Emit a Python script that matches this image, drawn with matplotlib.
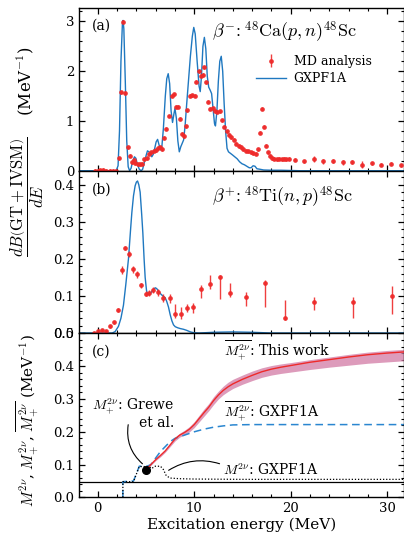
import matplotlib
matplotlib.use("Agg")
import matplotlib.pyplot as plt
from matplotlib.ticker import MultipleLocator, FormatStrFormatter

plt.rcParams['font.family'] = ['DejaVu Serif']
plt.rcParams['mathtext.fontset'] = 'cm'

# ---- panel (a): beta-  48Ca(p,n)48Sc ----
E_a = [-0.3, 0.0, 0.25, 0.55, 0.9, 1.25, 1.6, 1.9, 2.2, 2.42, 2.65, 2.87, 3.1, 3.3, 3.5,
       3.72, 3.9, 4.12, 4.37, 4.6, 4.84, 5.08, 5.32, 5.55, 5.78, 6.02, 6.27, 6.48, 6.65,
       6.85, 7.08, 7.38, 7.65, 7.9, 8.1, 8.3, 8.52, 8.72, 8.9, 9.1, 9.3, 9.55, 9.8, 10.03,
       10.2, 10.45, 10.68, 10.87, 11.04, 11.2, 11.42, 11.66, 11.9, 12.15, 12.4, 12.63,
       12.87, 13.13, 13.38, 13.62, 13.85, 14.08, 14.33, 14.6, 14.85, 15.1, 15.37, 15.62,
       15.88, 16.14, 16.38, 16.6, 16.8, 17.02, 17.22, 17.42, 17.62, 17.83, 18.05, 18.3,
       18.55, 18.8, 19.05, 19.3, 19.55, 19.8]
md_a = [0.0, 0.0, 0.01, 0.02, 0.0, 0.0, 0.0, 0.0, 0.25, 1.58, 2.99, 1.57, 0.475, 0.30, 0.17,
        0.22, 0.15, 0.13, 0.13, 0.14, 0.235, 0.25, 0.34, 0.375, 0.40, 0.41, 0.45, 0.475, 0.435,
        0.66, 0.84, 1.10, 1.51, 1.54, 1.29, 1.29, 1.04, 0.74, 0.69, 0.89, 1.22, 1.51, 1.52, 1.51,
        1.79, 2.0, 1.91, 1.93, 2.08, 1.78, 1.39, 1.25, 1.26, 1.21, 1.19, 1.20,
        1.01, 0.88, 0.79, 0.72, 0.67, 0.62, 0.54, 0.50, 0.475, 0.435, 0.40, 0.39,
        0.375, 0.355, 0.345, 0.435, 0.76, 1.245, 0.88, 0.50, 0.37, 0.30, 0.255, 0.24,
        0.23, 0.24, 0.23, 0.24, 0.235, 0.24]
# sparse high-energy points
E_a_tail = [20.4, 21.4, 22.4, 23.4, 24.4, 25.4, 26.4, 27.4, 28.4, 29.4, 30.4, 31.4]
md_a_tail = [0.22, 0.19, 0.23, 0.19, 0.19, 0.17, 0.17, 0.12, 0.15, 0.12, 0.14, 0.11]
err_a_tail = [0.03, 0.03, 0.06, 0.05, 0.04, 0.05, 0.04, 0.07, 0.03, 0.03, 0.03, 0.03]

gx_E_a = [-2, 1.9, 2.1, 2.25, 2.4, 2.55, 2.62, 2.7, 2.85, 3.0, 3.15, 3.3, 3.45, 3.6, 3.8,
          3.95, 4.1, 4.3, 4.5, 4.65, 4.8, 5.0, 5.15, 5.3, 5.45, 5.6, 5.75, 5.9, 6.05, 6.2,
          6.35, 6.5, 6.65, 6.8, 7.0, 7.15, 7.3, 7.45, 7.6, 7.75, 7.9, 8.0, 8.15, 8.3, 8.45,
          8.6, 8.75, 8.9, 9.05, 9.2, 9.4, 9.6, 9.8, 9.95, 10.1, 10.3, 10.5, 10.62, 10.75,
          10.9, 11.05, 11.2, 11.35, 11.5, 11.65, 11.8, 11.95, 12.1, 12.2, 12.35, 12.5, 12.65,
          12.8, 12.95, 13.1, 13.25, 13.4, 13.55, 13.75, 13.95, 14.2, 14.45, 14.7, 14.95,
          15.2, 15.45, 15.7, 15.9, 16.1, 16.3, 16.5, 16.8, 17.2, 18, 19, 20, 21, 32]
gx_a = [0, 0, 0.1, 0.8, 2.2, 2.95, 3.02, 2.85, 1.8, 0.6, 0.08, 0.0, 0.05, 0.18, 0.28,
        0.25, 0.13, 0.03, 0.0, 0.03, 0.15, 0.3, 0.4, 0.38, 0.35, 0.28, 0.33, 0.45, 0.58, 0.63,
        0.52, 0.42, 0.5, 0.85, 1.5, 1.85, 1.95, 1.75, 1.2, 0.97, 1.15, 1.25, 1.05, 0.6, 0.38,
        0.48, 0.55, 0.62, 0.9, 1.3, 1.8, 2.3, 2.7, 2.88, 2.75, 2.2, 1.7, 1.59, 1.9,
        2.5, 2.68, 2.45, 1.9, 1.68, 1.62, 1.55, 1.25, 0.95, 0.9, 1.2, 1.8, 2.2,
        2.3, 2.0, 1.35, 0.8, 0.45, 0.38, 0.35, 0.32, 0.28, 0.24, 0.18, 0.14,
        0.12, 0.09, 0.06, 0.06, 0.1, 0.09, 0.04, 0.03, 0.015, 0.01, 0.01, 0.005, 0.0, 0.0]

# ---- panel (b): beta+  48Ti(n,p)48Sc ----
E_b = [-0.35, 0.06, 0.48, 0.86, 1.28, 1.69, 2.07, 2.49, 2.87, 3.28, 3.7, 4.11, 4.5, 4.98,
       5.36, 5.77, 6.19, 6.81, 7.44, 8.03, 8.62, 9.24, 9.86, 10.66, 11.66, 12.63, 13.67,
       15.37, 17.37, 19.37, 22.4, 26.44, 30.46]
md_b = [0.0, 0.006, 0.009, 0.005, 0.018, 0.029, 0.063, 0.17, 0.23, 0.212, 0.172, 0.158,
        0.129, 0.106, 0.108, 0.117, 0.111, 0.095, 0.094, 0.052, 0.051, 0.068, 0.071, 0.120,
        0.133, 0.152, 0.107, 0.097, 0.134, 0.040, 0.085, 0.084, 0.100]
lo_b = [0.003, 0.003, 0.003, 0.003, 0.004, 0.004, 0.005, 0.01, 0.006, 0.008, 0.01, 0.01,
        0.007, 0.006, 0.008, 0.01, 0.01, 0.012, 0.014, 0.012, 0.012, 0.01, 0.016, 0.025,
        0.015, 0.06, 0.01, 0.024, 0.063, 0.005, 0.024, 0.043, 0.048]
hi_b = [0.003, 0.003, 0.003, 0.003, 0.004, 0.004, 0.005, 0.01, 0.006, 0.008, 0.01, 0.01,
        0.007, 0.006, 0.008, 0.008, 0.008, 0.01, 0.012, 0.025, 0.02, 0.01, 0.011, 0.009,
        0.023, 0.005, 0.029, 0.014, 0.008, 0.05, 0.012, 0.013, 0.028]

gx_E_b = [-2, 1.5, 1.8, 2.14, 2.4, 2.66, 2.9, 3.18, 3.4, 3.53, 3.7, 3.87, 4.0, 4.12, 4.25,
          4.39, 4.55, 4.67, 4.8, 4.91, 5.05, 5.15, 5.3, 5.43, 5.6, 5.77, 5.95, 6.1, 6.3,
          6.5, 6.7, 6.99, 7.15, 7.33, 7.5, 7.68, 7.85, 8.03, 8.3, 8.55, 8.9, 9.24, 9.6,
          9.93, 10.5, 12, 14, 16, 17, 18, 32]
gx_b = [0, 0, 0.004, 0.018, 0.04, 0.075, 0.13, 0.2, 0.28, 0.325, 0.37, 0.397, 0.407, 0.41,
        0.4, 0.38, 0.32, 0.27, 0.2, 0.15, 0.115, 0.105, 0.104, 0.106, 0.112, 0.117, 0.122,
        0.12, 0.113, 0.106, 0.101, 0.095, 0.085, 0.07, 0.05, 0.033, 0.022, 0.017, 0.014,
        0.012, 0.01, 0.007, 0.003, 0.001, 0.0, 0.002, 0.003, 0.002, 0.001, 0.0, 0.0]

# ---- panel (c): running sums ----
tw_E = [5.0, 5.5, 6.0, 6.5, 7.0, 7.5, 8.0, 8.5, 9.0, 9.5, 10.0, 10.5, 11.0, 11.5, 12.0,
        12.5, 13.0, 13.5, 14.0, 15.0, 16.0, 17.0, 18.0, 19.0, 20.0, 22.0, 24.0, 26.0,
        28.0, 30.0, 32.0]
tw_M = [0.085, 0.1, 0.115, 0.128, 0.142, 0.16, 0.178, 0.19, 0.198, 0.208, 0.222, 0.24,
        0.258, 0.275, 0.295, 0.312, 0.326, 0.337, 0.346, 0.36, 0.372, 0.383, 0.391, 0.397,
        0.402, 0.412, 0.42, 0.428, 0.435, 0.44, 0.444]
tw_lo = [0.084, 0.098, 0.112, 0.124, 0.138, 0.155, 0.172, 0.184, 0.191, 0.2, 0.213, 0.23,
         0.247, 0.264, 0.283, 0.3, 0.313, 0.323, 0.332, 0.345, 0.356, 0.366, 0.373, 0.378,
         0.382, 0.39, 0.397, 0.403, 0.409, 0.413, 0.417]
tw_hi = [0.086, 0.102, 0.118, 0.132, 0.146, 0.165, 0.184, 0.196, 0.205, 0.216, 0.231, 0.25,
         0.269, 0.286, 0.307, 0.324, 0.339, 0.351, 0.36, 0.373, 0.385, 0.395, 0.402, 0.407,
         0.411, 0.42, 0.428, 0.436, 0.443, 0.448, 0.452]

gxbar_E = [2.6, 2.6, 3.7, 4.3, 5.1, 5.5, 6.0, 6.5, 7.0, 7.5, 8.0, 8.5, 9.0, 10.0, 11.0,
           12.0, 13.0, 14.0, 16.0, 20.0, 32.0]
gxbar_M = [0.0, 0.048, 0.05, 0.095, 0.095, 0.1, 0.12, 0.14, 0.155, 0.17, 0.18, 0.185,
           0.19, 0.2, 0.208, 0.214, 0.218, 0.221, 0.222, 0.222, 0.222]

gx2_E = [2.6, 2.6, 3.7, 4.3, 5.3, 5.6, 5.9, 6.5, 6.8, 7.1, 7.5, 8.5, 10.0, 15.0, 32.0]
gx2_M = [0.0, 0.048, 0.048, 0.094, 0.094, 0.088, 0.095, 0.095, 0.085, 0.066, 0.059, 0.057,
         0.056, 0.055, 0.055]

grewe_E, grewe_M, grewe_err = 5.0, 0.085, 0.012
hline_M = 0.048

red = '#ee2a2a'
blue = '#1f78c0'

fig = plt.figure(figsize=(4.04, 5.36), dpi=100)
L, W = 79 / 404, 325 / 404
ax_a = fig.add_axes([L, 0.681, W, 0.305])
ax_b = fig.add_axes([L, 0.378, W, 0.303])
ax_c = fig.add_axes([L, 0.072, W, 0.306])

for ax in (ax_a, ax_b, ax_c):
    ax.set_xlim(-1.95, 31.75)
    ax.xaxis.set_major_locator(MultipleLocator(10))
    ax.xaxis.set_minor_locator(MultipleLocator(2))
    ax.tick_params(which='both', direction='in', top=True, right=True, labelsize=9.5)
    ax.tick_params(which='major', length=4.5, width=0.9)
    ax.tick_params(which='minor', length=2.5, width=0.8)
    for s in ax.spines.values():
        s.set_linewidth(1.0)

# (a)
ax_a.plot(gx_E_a, gx_a, color=blue, lw=1.0, label='GXPF1A', zorder=2)
ax_a.errorbar(E_a, md_a, yerr=0.03, fmt='o', ms=2.4, color=red, ecolor=red,
              elinewidth=1.0, alpha=0.9, zorder=3, label='MD analysis')
ax_a.errorbar(E_a_tail, md_a_tail, yerr=err_a_tail, fmt='o', ms=2.4, color=red,
              ecolor=red, elinewidth=1.0, alpha=0.9, zorder=3)
ax_a.set_ylim(-0.005, 3.28)
ax_a.yaxis.set_major_locator(MultipleLocator(1))
ax_a.yaxis.set_minor_locator(MultipleLocator(0.2))
ax_a.tick_params(labelbottom=False)
ax_a.text(0.04, 0.93, '(a)', transform=ax_a.transAxes, fontsize=10, va='top')
ax_a.text(0.41, 0.85, r'$\beta^{-}\!:{}^{48}\mathrm{Ca}(p,n)^{48}\mathrm{Sc}$',
          transform=ax_a.transAxes, fontsize=13, va='center')
h, lab = ax_a.get_legend_handles_labels()
ax_a.legend(h[::-1], lab[::-1], loc='upper left', bbox_to_anchor=(0.53, 0.74),
            frameon=False, fontsize=9, handlelength=2.4, handletextpad=0.6,
            labelspacing=0.35, borderaxespad=0)

# (b)
ax_b.plot(gx_E_b, gx_b, color=blue, lw=1.0, zorder=2)
ax_b.errorbar(E_b, md_b, yerr=[lo_b, hi_b], fmt='o', ms=2.4, color=red, ecolor=red,
              elinewidth=1.0, alpha=0.9, zorder=3)
ax_b.set_ylim(-0.001, 0.437)
ax_b.yaxis.set_major_locator(MultipleLocator(0.1))
ax_b.yaxis.set_minor_locator(MultipleLocator(0.02))
ax_b.yaxis.set_major_formatter(FormatStrFormatter('%.1f'))
ax_b.tick_params(labelbottom=False)
ax_b.text(0.04, 0.93, '(b)', transform=ax_b.transAxes, fontsize=10, va='top')
ax_b.text(0.41, 0.84, r'$\beta^{+}\!:{}^{48}\mathrm{Ti}(n,p)^{48}\mathrm{Sc}$',
          transform=ax_b.transAxes, fontsize=13, va='center')

# (c)
ax_c.axhline(hline_M, color='k', lw=0.9, zorder=1)
ax_c.fill_between(tw_E, tw_lo, tw_hi, color='#d27aa4', alpha=0.75, lw=0, zorder=2)
ax_c.plot(tw_E, tw_M, color=red, lw=1.0, zorder=3)
ax_c.plot(gxbar_E, gxbar_M, color='#2a86d0', lw=1.1, ls=(0, (5, 3)), zorder=2)
ax_c.plot(gx2_E, gx2_M, color='k', lw=0.9, ls=(0, (1, 1.5)), zorder=2)
ax_c.errorbar([grewe_E], [grewe_M], yerr=grewe_err, fmt='o', ms=5.5, color='k',
              elinewidth=1.0, zorder=4)
ax_c.set_ylim(0, 0.5)
ax_c.yaxis.set_major_locator(MultipleLocator(0.1))
ax_c.yaxis.set_minor_locator(MultipleLocator(0.02))
ax_c.yaxis.set_major_formatter(FormatStrFormatter('%.1f'))
ax_c.text(0.04, 0.93, '(c)', transform=ax_c.transAxes, fontsize=10, va='top')
ax_c.set_xlabel('Excitation energy (MeV)', fontsize=11, labelpad=2)

ax_c.text(13.1, 0.445, r'$\overline{M_{+}^{2\nu}}$: This work', fontsize=10, va='center')
ax_c.text(13.1, 0.262, r'$\overline{M_{+}^{2\nu}}$: GXPF1A', fontsize=10, va='center')
ax_c.text(13.0, 0.083, r'$M^{2\nu}$: GXPF1A', fontsize=10, va='center')
ax_c.text(7.9, 0.258, '$M_{+}^{2\\nu}$: Grewe\net al.', fontsize=10, ha='right',
          va='center', multialignment='right', linespacing=1.0)
ax_c.annotate('', xy=(7.1, 0.078), xytext=(12.9, 0.1),
              arrowprops=dict(arrowstyle='-', color='k', lw=0.8,
                              connectionstyle='arc3,rad=0.25'))
ax_c.annotate('', xy=(4.85, 0.097), xytext=(3.2, 0.23),
              arrowprops=dict(arrowstyle='-', color='k', lw=0.8,
                              connectionstyle='arc3,rad=0.3'))

fig.text(0.069, 0.717,
         r'$\dfrac{dB\left(\mathrm{GT+IVSM}\right)}{dE}$    (MeV$^{-1}$)',
         rotation=90, ha='center', va='center', fontsize=12)
fig.text(0.069, 0.2146,
         r'$M^{2\nu}$, $M_{+}^{2\nu}$, $\overline{M_{+}^{2\nu}}$ (MeV$^{-1}$)',
         rotation=90, ha='center', va='center', fontsize=11)

fig.savefig('out.png', dpi=100)
